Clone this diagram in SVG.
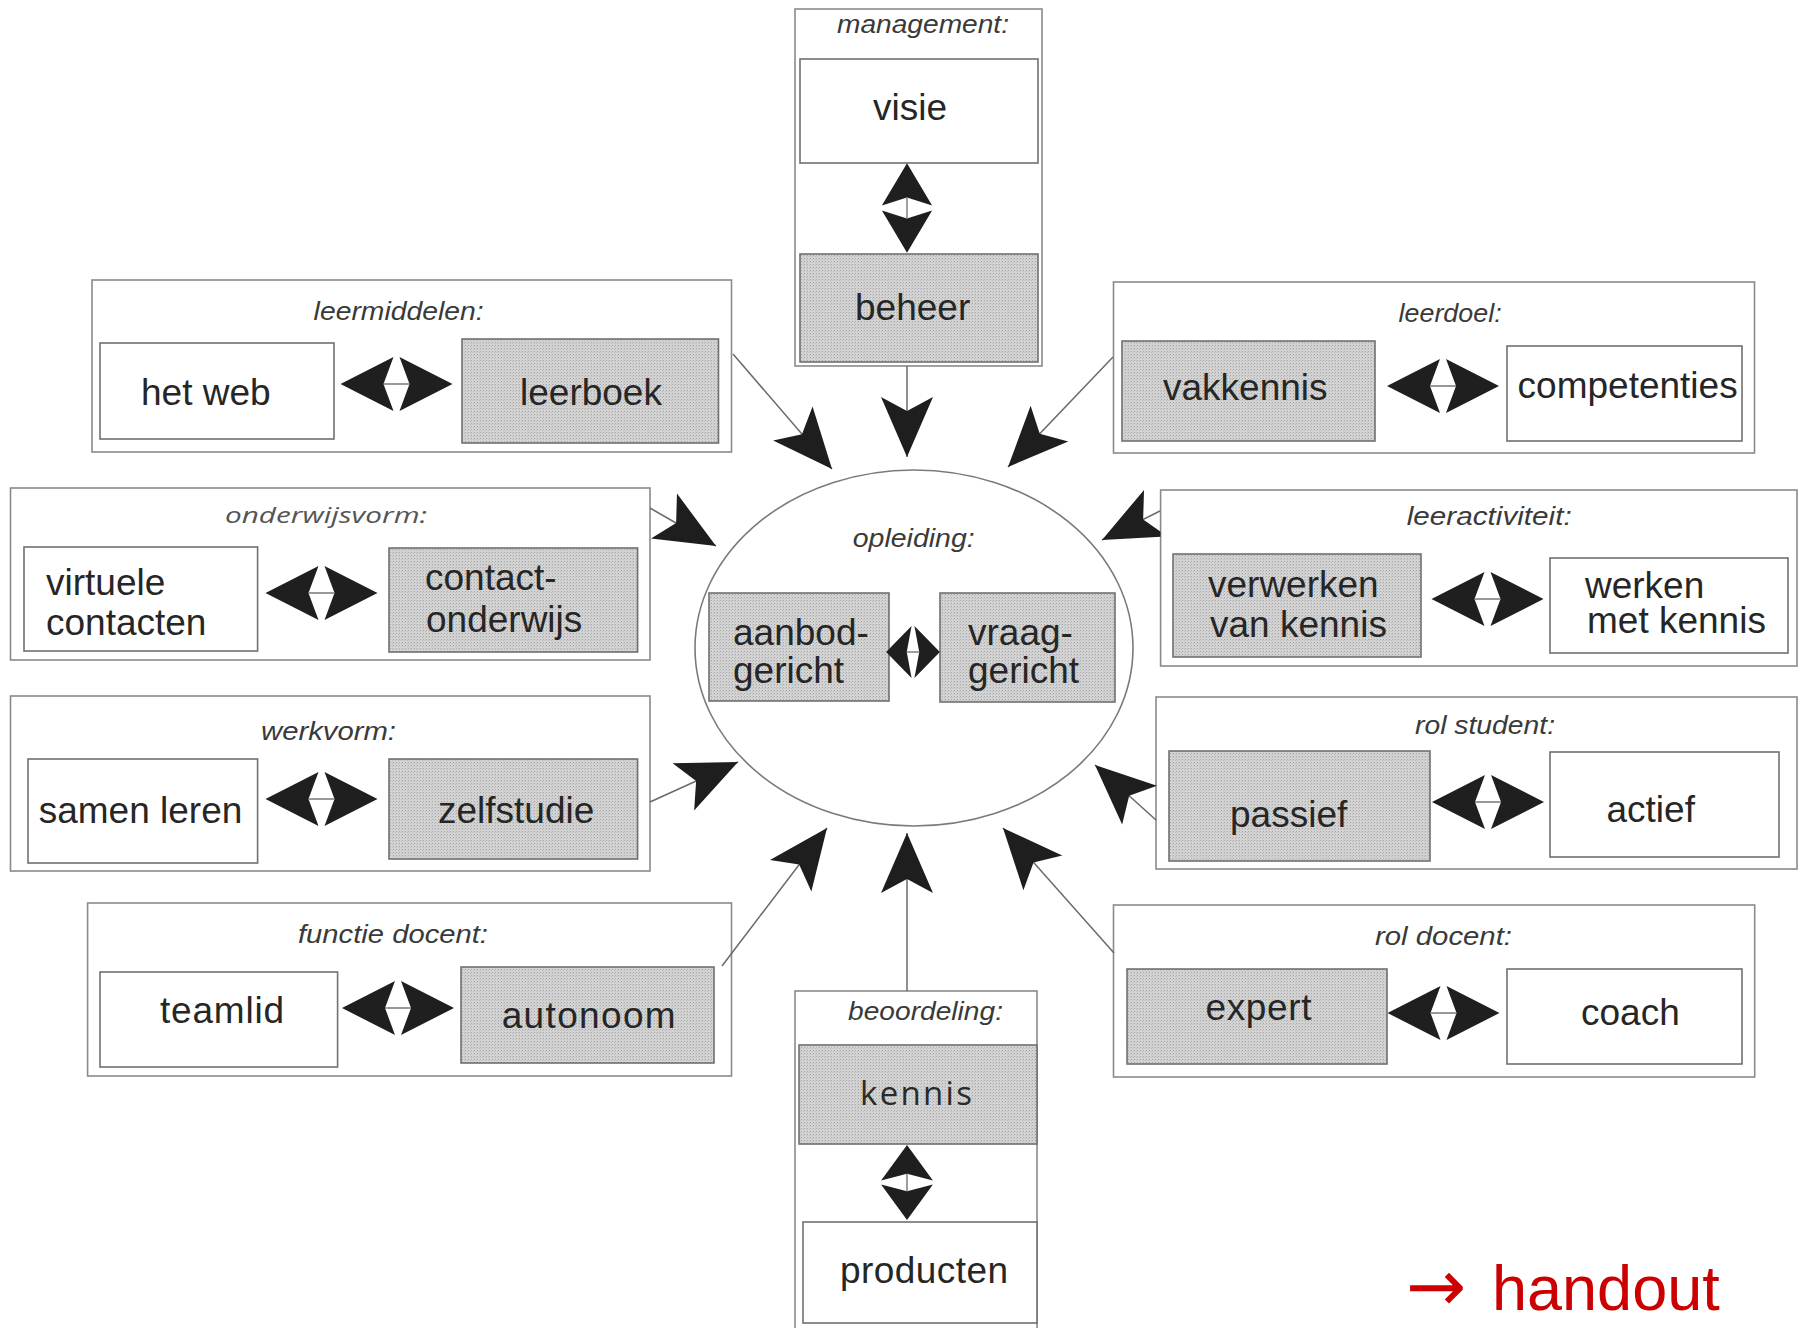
<svg xmlns="http://www.w3.org/2000/svg" width="1804" height="1328" viewBox="0 0 1804 1328">
  <defs>
    <style>
      .grp { fill: none; stroke: #8a8a8a; stroke-width: 1.6; }
      .box { fill: #ffffff; stroke: #707070; stroke-width: 1.6; }
      .shade { fill: url(#halftone); stroke: #707070; stroke-width: 1.6; }
      .t { font-family: "Liberation Sans", Arial, sans-serif; font-size: 37px; fill: #262626; }
      .lbl { font-family: "Liberation Sans", Arial, sans-serif; font-style: italic; font-size: 25px; fill: #3a3a3a; }
      .lbl2 { font-family: "Open Sans", "DejaVu Sans", sans-serif; font-style: italic; font-size: 22px; fill: #555555; }
      .wide { font-family: "Open Sans", "DejaVu Sans", sans-serif; font-size: 33px; fill: #2a2a2a; }
      .conn { stroke: #6a6a6a; stroke-width: 1.5; fill: none; marker-end: url(#head); }
      .red { font-family: "Liberation Sans", Arial, sans-serif; font-size: 63px; fill: #cc0000; }
      .arw { font-family: "DejaVu Sans", sans-serif; font-size: 72px; }
    </style>
    <!-- light grey halftone used for the highlighted options -->
    <pattern id="halftone" width="3" height="3" patternUnits="userSpaceOnUse">
      <rect width="3" height="3" fill="#d3d3d3"/>
      <rect width="1" height="1" fill="#a6a6a6"/>
      <rect x="2" y="1" width="1" height="1" fill="#bdbdbd"/>
    </pattern>
    <!-- arrowhead of the connectors pointing at the centre -->
    <marker id="head" markerUnits="userSpaceOnUse" viewBox="-62 -28 64 56" refX="0" refY="0" markerWidth="64" markerHeight="56" orient="auto">
      <path d="M0,0 L-60,-26 L-46,0 L-60,26 Z" fill="#1e1e1e"/>
    </marker>
    <!-- double-headed arrow between two opposite options -->
    <g id="dbl">
      <path d="M-56,0 L-3,-27 L-13,0 L-3,27 Z M56,0 L3,-27 L13,0 L3,27 Z" fill="#1f1f1f"/>
      <path d="M-13,0 H13" stroke="#777777" stroke-width="1.5"/>
    </g>
    <clipPath id="clipLeft">
      <rect x="0" y="0" width="1160.5" height="1328"/>
    </clipPath>
  </defs>

  <rect width="1804" height="1328" fill="#ffffff"/>

  <!-- management -->
  <g id="management">
    <rect class="grp" x="795" y="9" width="247" height="357"/>
    <text class="lbl" x="837" y="33" textLength="172" lengthAdjust="spacingAndGlyphs">management:</text>
    <rect class="box" x="800" y="59" width="238" height="104"/>
    <text class="t" x="873" y="120">visie</text>
    <rect class="shade" x="800" y="254" width="238" height="108"/>
    <text class="t" x="855" y="320">beheer</text>
    <use href="#dbl" transform="translate(907,208) rotate(90) scale(0.8,0.93)"/>
  </g>

  <!-- leermiddelen -->
  <g id="leermiddelen">
    <rect class="grp" x="92" y="280" width="639.5" height="172"/>
    <text class="lbl" x="313.6" y="320" textLength="170" lengthAdjust="spacingAndGlyphs">leermiddelen:</text>
    <rect class="box" x="100" y="343" width="234" height="96"/>
    <text class="t" x="141" y="405">het web</text>
    <rect class="shade" x="462" y="339" width="256.5" height="104"/>
    <text class="t" x="520" y="405">leerboek</text>
    <use href="#dbl" transform="translate(396.5,384)"/>
  </g>

  <!-- leerdoel -->
  <g id="leerdoel">
    <rect class="grp" x="1113.5" y="282" width="641" height="171"/>
    <text class="lbl" x="1398.6" y="322" textLength="103" lengthAdjust="spacingAndGlyphs">leerdoel:</text>
    <rect class="shade" x="1122" y="341" width="253" height="100"/>
    <text class="t" x="1163" y="400">vakkennis</text>
    <rect class="box" x="1507" y="346" width="235" height="95"/>
    <text class="t" x="1517.6" y="398">competenties</text>
    <use href="#dbl" transform="translate(1443,386)"/>
  </g>

  <!-- onderwijsvorm -->
  <g id="onderwijsvorm">
    <rect class="grp" x="10.5" y="488" width="639.5" height="172"/>
    <text class="lbl2" x="225" y="523" textLength="202" lengthAdjust="spacingAndGlyphs">onderwijsvorm:</text>
    <rect class="box" x="24" y="547" width="233.6" height="104"/>
    <text class="t"><tspan x="46" y="595">virtuele</tspan><tspan x="46" y="635">contacten</tspan></text>
    <rect class="shade" x="389" y="548" width="248.6" height="104"/>
    <text class="t"><tspan x="425" y="590">contact-</tspan><tspan x="426" y="632">onderwijs</tspan></text>
    <use href="#dbl" transform="translate(321.5,593)"/>
  </g>

  <!-- opleiding (centre) -->
  <g id="opleiding">
    <ellipse cx="914" cy="648" rx="219" ry="178" fill="#ffffff" stroke="#7a7a7a" stroke-width="1.6"/>
    <text class="lbl" x="852.7" y="547" textLength="122" lengthAdjust="spacingAndGlyphs">opleiding:</text>
    <rect class="shade" x="709" y="593" width="180" height="108"/>
    <text class="t"><tspan x="733" y="645">aanbod-</tspan><tspan x="733" y="683">gericht</tspan></text>
    <rect class="shade" x="940" y="593" width="175" height="109"/>
    <text class="t"><tspan x="968" y="645">vraag-</tspan><tspan x="968" y="683">gericht</tspan></text>
    <use href="#dbl" transform="translate(913,652) scale(0.48,0.96)"/>
  </g>

  <!-- leeractiviteit -->
  <g id="leeractiviteit">
    <rect class="grp" x="1160.6" y="490" width="636.4" height="176"/>
    <text class="lbl" x="1406.7" y="525" textLength="165" lengthAdjust="spacingAndGlyphs">leeractiviteit:</text>
    <rect class="shade" x="1173" y="554" width="248" height="103"/>
    <text class="t"><tspan x="1208" y="597">verwerken</tspan><tspan x="1210" y="637">van kennis</tspan></text>
    <rect class="box" x="1550" y="558" width="238" height="95"/>
    <text class="t"><tspan x="1585" y="598">werken</tspan><tspan x="1587" y="633">met kennis</tspan></text>
    <use href="#dbl" transform="translate(1487.5,599)"/>
  </g>

  <!-- werkvorm -->
  <g id="werkvorm">
    <rect class="grp" x="10.5" y="696" width="639.5" height="175"/>
    <text class="lbl" x="261" y="740" textLength="135" lengthAdjust="spacingAndGlyphs">werkvorm:</text>
    <rect class="box" x="28" y="759" width="229.6" height="104"/>
    <text class="t" x="38.7" y="823">samen leren</text>
    <rect class="shade" x="389" y="759" width="248.6" height="100"/>
    <text class="t" x="438" y="823">zelfstudie</text>
    <use href="#dbl" transform="translate(321.5,799)"/>
  </g>

  <!-- rol student -->
  <g id="rol-student">
    <rect class="grp" x="1156" y="697" width="641" height="172"/>
    <text class="lbl" x="1415" y="734" textLength="140" lengthAdjust="spacingAndGlyphs">rol student:</text>
    <rect class="shade" x="1169" y="751" width="261" height="110"/>
    <text class="t" x="1230" y="827">passief</text>
    <rect class="box" x="1550" y="752" width="229" height="105"/>
    <text class="t" x="1606.5" y="822">actief</text>
    <use href="#dbl" transform="translate(1488,802)"/>
  </g>

  <!-- functie docent -->
  <g id="functie-docent">
    <rect class="grp" x="87.6" y="903" width="643.9" height="173"/>
    <text class="lbl" x="298" y="943" textLength="190" lengthAdjust="spacingAndGlyphs">functie docent:</text>
    <rect class="box" x="100" y="972" width="237.6" height="95"/>
    <text class="t" x="160" y="1023" textLength="124">teamlid</text>
    <rect class="shade" x="461" y="967" width="253" height="96"/>
    <text class="t" x="501.7" y="1028" textLength="174">autonoom</text>
    <use href="#dbl" transform="translate(398,1008)"/>
  </g>

  <!-- rol docent -->
  <g id="rol-docent">
    <rect class="grp" x="1113.5" y="905" width="641.2" height="172"/>
    <text class="lbl" x="1375" y="945" textLength="137" lengthAdjust="spacingAndGlyphs">rol docent:</text>
    <rect class="shade" x="1127" y="969" width="260" height="95"/>
    <text class="t" x="1205.5" y="1020" textLength="106">expert</text>
    <rect class="box" x="1507" y="969" width="235" height="95"/>
    <text class="t" x="1581" y="1025">coach</text>
    <use href="#dbl" transform="translate(1443.5,1013)"/>
  </g>

  <!-- beoordeling -->
  <g id="beoordeling">
    <rect class="grp" x="795" y="991" width="242" height="345"/>
    <text class="lbl" x="848" y="1020" textLength="155" lengthAdjust="spacingAndGlyphs">beoordeling:</text>
    <rect class="shade" x="799" y="1045" width="238" height="99"/>
    <text class="wide" x="860" y="1105" textLength="112">kennis</text>
    <rect class="box" x="803" y="1222" width="234" height="101"/>
    <text class="t" x="840" y="1283" textLength="168">producten</text>
    <use href="#dbl" transform="translate(907,1182.5) rotate(90) scale(0.67,0.96)"/>
  </g>

  <!-- connectors: every dimension points at the centre -->
  <g id="connectors">
    <line class="conn" x1="733" y1="354" x2="832" y2="469"/>
    <line class="conn" x1="907" y1="366" x2="907" y2="457"/>
    <line class="conn" x1="1113" y1="357" x2="1008" y2="467"/>
    <line class="conn" x1="1160" y1="511" x2="1102" y2="540" clip-path="url(#clipLeft)"/>
    <line class="conn" x1="650" y1="508" x2="716" y2="546"/>
    <line class="conn" x1="650" y1="802" x2="738" y2="762"/>
    <line class="conn" x1="722" y1="966" x2="827" y2="828"/>
    <line class="conn" x1="907" y1="991" x2="907" y2="833"/>
    <line class="conn" x1="1114" y1="953" x2="1003" y2="828"/>
    <line class="conn" x1="1156" y1="820" x2="1095" y2="765"/>
  </g>

  <!-- reference to the handout -->
  <g id="handout">
    <text class="red"><tspan class="arw" x="1406" y="1311">→</tspan><tspan x="1492" y="1310">handout</tspan></text>
  </g>
</svg>
